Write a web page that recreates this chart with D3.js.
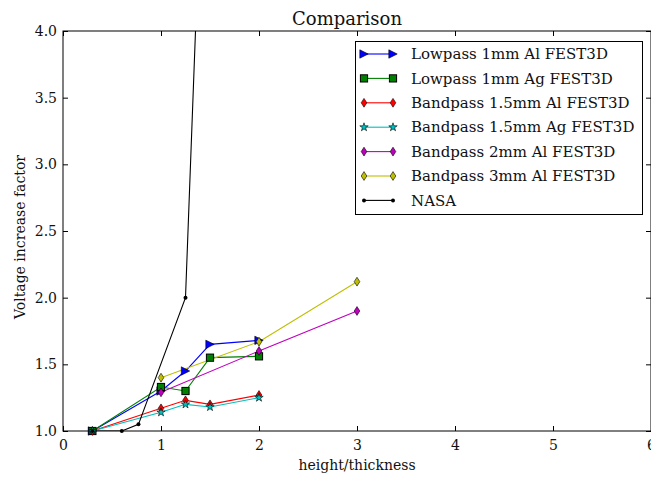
<!DOCTYPE html>
<html><head><meta charset="utf-8">
<script src="https://cdn.jsdelivr.net/npm/d3@7"></script>
<style>
body{margin:0;background:#fff}
svg{display:block}
text{font-family:"DejaVu Serif",serif;fill:#111}
</style>
</head><body>
<svg id="chart" width="651" height="477"></svg>
<script>
// ---- data ----
const xTicks = [0, 1, 2, 3, 4, 5, 6];
const yTicks = [1.0, 1.5, 2.0, 2.5, 3.0, 3.5, 4.0];
const seriesNames = ["Lowpass 1mm Al FEST3D", "Lowpass 1mm Ag FEST3D", "Bandpass 1.5mm Al FEST3D",
  "Bandpass 1.5mm Ag FEST3D", "Bandpass 2mm Al FEST3D", "Bandpass 3mm Al FEST3D", "NASA"];
const lowpassAlX = [0.3, 1, 1.25, 1.5, 2];
const lowpassAlY = [1.0, 1.3, 1.45, 1.65, 1.68];
const lowpassAgX = [0.3, 1, 1.25, 1.5, 2];
const lowpassAgY = [1.0, 1.33, 1.3, 1.55, 1.56];
const band15AlX = [0.3, 1, 1.25, 1.5, 2];
const band15AlY = [1.0, 1.17, 1.23, 1.2, 1.27];
const band15AgX = [0.3, 1, 1.25, 1.5, 2];
const band15AgY = [1.0, 1.14, 1.2, 1.18, 1.25];
const band2AlX = [1, 2, 3];
const band2AlY = [1.29, 1.6, 1.9];
const band3AlX = [1, 2, 3];
const band3AlY = [1.4, 1.67, 2.12];
const nasaX = [0.3, 0.6, 0.77, 1.25, 1.5];
const nasaY = [1.0, 1.0, 1.05, 2.0, 6.9];

const colors = ["#0000ff", "#008000", "#ff0000", "#00bfbf", "#bf00bf", "#bfbf00", "#000000"];
const markers = ["tri", "square", "diamond", "star", "diamond", "diamond", "dot"];
const xs = [lowpassAlX, lowpassAgX, band15AlX, band15AgX, band2AlX, band3AlX, nasaX];
const ys = [lowpassAlY, lowpassAgY, band15AlY, band15AgY, band2AlY, band3AlY, nasaY];

// ---- layout ----
const L = 63, R = 651, T = 31, B = 431;
const svg = d3.select("#chart");
const x = d3.scaleLinear().domain([0, 6]).range([L, R]);
const y = d3.scaleLinear().domain([1, 4]).range([B, T]);

svg.append("defs").append("clipPath").attr("id", "clip")
  .append("rect").attr("x", L).attr("y", T).attr("width", R - L).attr("height", B - T);

// axes with inward ticks
const tickLen = 5;
const axB = svg.append("g").attr("transform", `translate(0,${B})`)
  .call(d3.axisBottom(x).tickValues(xTicks).tickFormat(d3.format("d")).tickSizeInner(-tickLen).tickSizeOuter(0).tickPadding(9));
const axT = svg.append("g").attr("transform", `translate(0,${T})`)
  .call(d3.axisTop(x).tickValues(xTicks).tickFormat("").tickSizeInner(-tickLen).tickSizeOuter(0));
const axL = svg.append("g").attr("transform", `translate(${L},0)`)
  .call(d3.axisLeft(y).tickValues(yTicks).tickFormat(d3.format(".1f")).tickSizeInner(-tickLen).tickSizeOuter(0).tickPadding(6));
const axR = svg.append("g").attr("transform", `translate(${R},0)`)
  .call(d3.axisRight(y).tickValues(yTicks).tickFormat("").tickSizeInner(-tickLen).tickSizeOuter(0));
[axB, axT, axL, axR].forEach(a => {
  a.select(".domain").remove();
  a.selectAll("line").attr("stroke", "#000").attr("stroke-width", 1);
  a.selectAll("text").style("font-family", '"DejaVu Serif",serif').style("font-size", "14px").attr("fill", "#111");
});
// frame
svg.append("rect").attr("x", L).attr("y", T).attr("width", R - L).attr("height", B - T)
  .attr("fill", "none").attr("stroke", "#000").attr("stroke-width", 1);

// marker drawing
function drawMarker(g, type, color, px, py) {
  if (type === "tri") {
    const s = 4.2;
    g.append("path").attr("d", `M${px + s},${py} L${px - s},${py - s} L${px - s},${py + s} Z`)
      .attr("fill", color).attr("stroke", "#000").attr("stroke-width", 0.6);
  } else if (type === "square") {
    const s = 3.6;
    g.append("rect").attr("x", px - s).attr("y", py - s).attr("width", 2 * s).attr("height", 2 * s)
      .attr("fill", color).attr("stroke", "#000").attr("stroke-width", 1);
  } else if (type === "diamond") {
    const w = 2.8, h = 4.4;
    g.append("path").attr("d", `M${px},${py - h} L${px + w},${py} L${px},${py + h} L${px - w},${py} Z`)
      .attr("fill", color).attr("stroke", "#000").attr("stroke-width", 0.6);
  } else if (type === "star") {
    g.append("path").attr("transform", `translate(${px},${py})`)
      .attr("d", d3.symbol(d3.symbolStar, 22)())
      .attr("fill", color).attr("stroke", "#000").attr("stroke-width", 0.6);
  } else {
    g.append("circle").attr("cx", px).attr("cy", py).attr("r", 2).attr("fill", "#000");
  }
}

const line = d3.line().x(d => x(d[0])).y(d => y(d[1]));
seriesNames.forEach((name, i) => {
  const pts = xs[i].map((v, j) => [v, ys[i][j]]);
  svg.append("path").datum(pts).attr("d", line).attr("clip-path", "url(#clip)")
    .attr("fill", "none").attr("stroke", colors[i]).attr("stroke-width", 1.1);
});
seriesNames.forEach((name, i) => {
  const g = svg.append("g");
  xs[i].forEach((v, j) => {
    if (ys[i][j] <= 4) drawMarker(g, markers[i], colors[i], x(v), y(ys[i][j]));
  });
});

// legend
const lg = svg.append("g");
lg.append("rect").attr("x", 355.5).attr("y", 41.5).attr("width", 287).attr("height", 173)
  .attr("fill", "#fff").attr("stroke", "#000").attr("stroke-width", 1);
seriesNames.forEach((name, i) => {
  const cy = 54 + i * 24.4;
  lg.append("line").attr("x1", 364).attr("x2", 393).attr("y1", cy).attr("y2", cy)
    .attr("stroke", colors[i]).attr("stroke-width", 1.1);
  drawMarker(lg, markers[i], colors[i], 364, cy);
  drawMarker(lg, markers[i], colors[i], 393, cy);
  lg.append("text").attr("x", 411).attr("y", cy).attr("dy", "0.35em")
    .style("font-size", "15px").text(name);
});

// titles
svg.append("text").attr("x", 347).attr("y", 19).attr("dy", "0.35em").attr("text-anchor", "middle")
  .style("font-size", "18px").text("Comparison");
svg.append("text").attr("x", 357).attr("y", 465).attr("dy", "0.35em").attr("text-anchor", "middle")
  .style("font-size", "14px").text("height/thickness");
svg.append("text").attr("transform", "translate(20,237) rotate(-90)").attr("dy", "0.35em")
  .attr("text-anchor", "middle").style("font-size", "14px").text("Voltage increase factor");
</script>
</body></html>
